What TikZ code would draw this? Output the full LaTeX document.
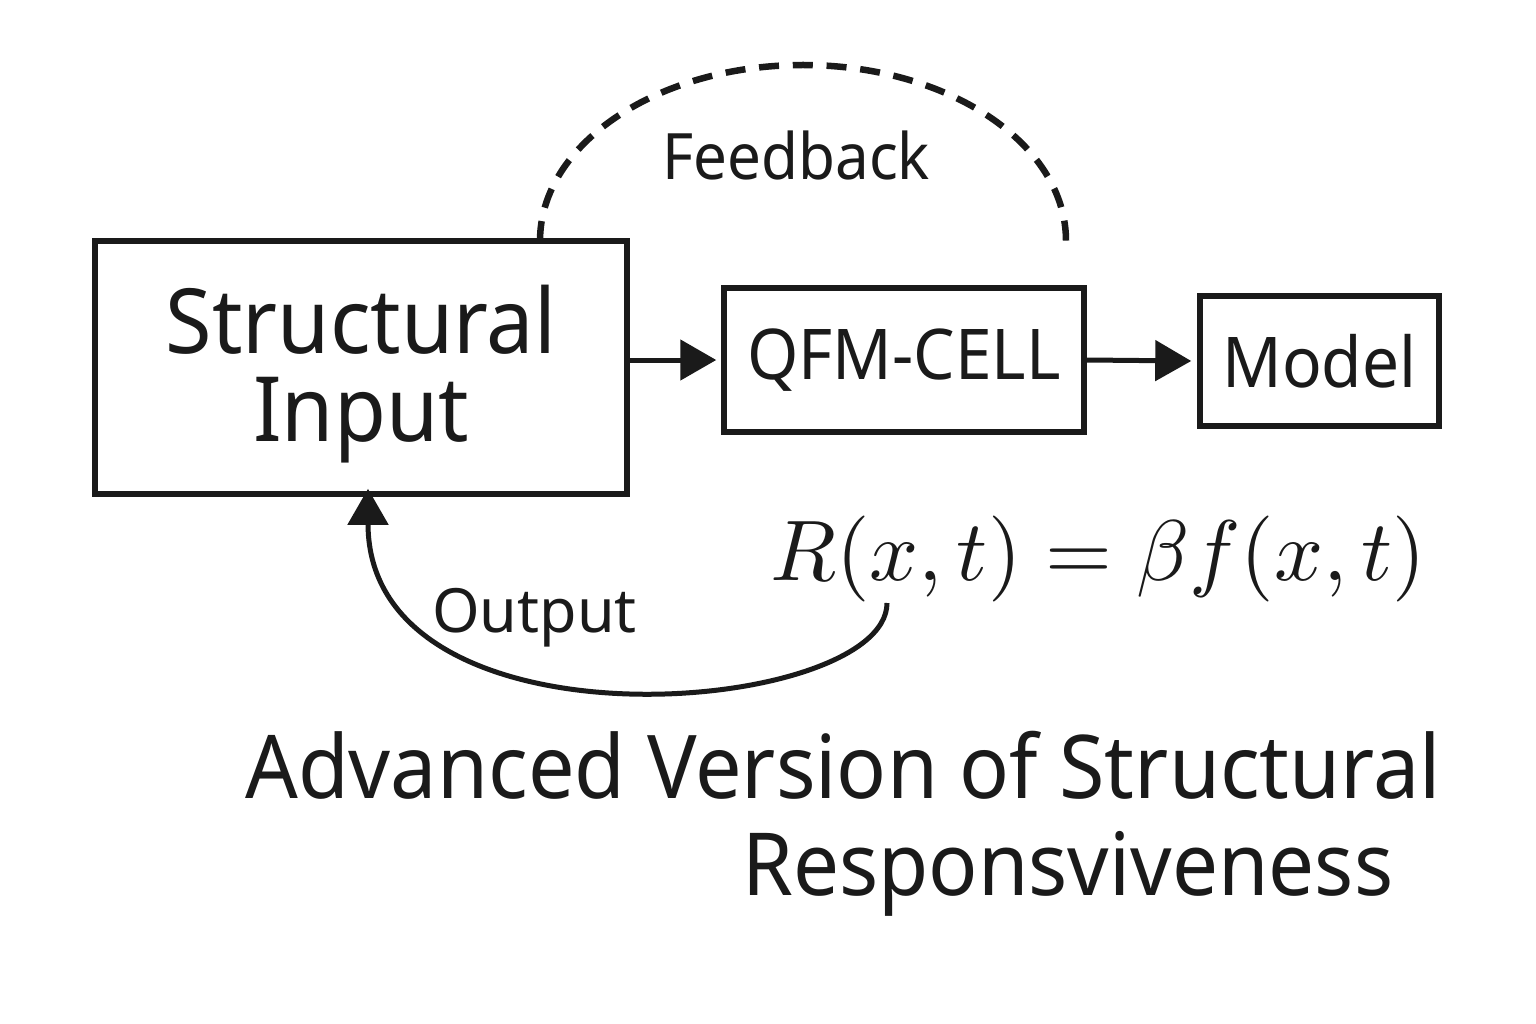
\documentclass[tikz,border=0pt]{standalone}
\usepackage{fontspec}
\setmainfont[FakeStretch=0.94]{Noto Sans}
\newfontfamily\widefont{Noto Sans}
\usetikzlibrary{arrows.meta,calc}
\definecolor{ink}{HTML}{1A1A1A}
\begin{document}
\begin{tikzpicture}[x=1pt,y=-1pt,
  box/.style={draw=ink,line width=5.5pt,inner sep=0pt,align=center,text=ink},
  arr/.style={draw=ink,line width=5pt,-{Triangle[length=36pt,width=40pt]}},
  lbl/.style={text=ink,inner sep=0pt,anchor=base west}]
\useasboundingbox (0,0) rectangle (1536,1024);
\fill[white] (0,0) rectangle (1536,1024);
\node[box,minimum width=532pt,minimum height=253pt,font=\fontsize{90}{88}\selectfont] (SI) at (361,367.5)
  {\rule{0pt}{82pt}Structural\\Input};
\node[box,minimum width=360pt,minimum height=144pt,font=\fontsize{70}{70}\selectfont] (QFM) at (904,360)
  {QFM-CELL};
\node[box,minimum width=239pt,minimum height=130pt,font=\fontsize{70}{70}\selectfont] (Model) at (1319.5,361)
  {Model};
\draw[arr] (SI.east |- QFM.west) -- ([xshift=-5pt]QFM.west);
\draw[arr] (QFM.east) -- ([xshift=-6pt]Model.west);
\coordinate (fbS) at (540,241);
\draw[ink,line width=6.5pt,dash pattern=on 20pt off 13.8pt] (fbS)
  arc[start angle=180,end angle=360,x radius=263,y radius=176];
\node[lbl,font=\fontsize{64}{64}\selectfont] (fb) at (662,180) {Feedback};
\node[lbl] (eq) at (770,580) {\scalebox{8.6}{$R(x,t)=\beta f(x,t)$}};
\coordinate (oS) at (887,603);
\draw[arr] (oS) .. controls (887,715) and (368,760) .. ([xshift=7pt,yshift=8pt]SI.south);
\node[lbl,font=\widefont\fontsize{61}{61}\selectfont] (out) at (432,632) {Output};
\node[lbl,font=\fontsize{88}{88}\selectfont] (t1) at (245,798) {Advanced Version of Structural};
\node[lbl,font=\fontsize{87}{87}\selectfont] (t2) at (742,895) {Responsviveness};
\end{tikzpicture}
\end{document}
